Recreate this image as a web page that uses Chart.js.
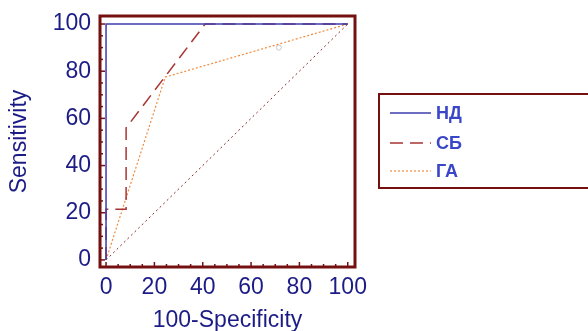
<!DOCTYPE html>
<html>
<head>
<meta charset="utf-8">
<script src="https://cdn.jsdelivr.net/npm/chart.js@4"></script>
<style>
  html, body { margin: 0; padding: 0; background: #fff; }
  #wrap { width: 588px; height: 331px; }
</style>
</head>
<body>
<div id="wrap"><canvas id="roc" width="588" height="331"></canvas></div>
<script>
// ===== Data =====
const axisTicks = [0, 20, 40, 60, 80, 100];
const ndX = [0, 0, 100];
const ndY = [0, 100, 100];
const sbX = [0, 0, 8.3, 8.3, 41, 100];
const sbY = [0, 21.5, 21.5, 56, 100, 100];
const gaX = [0, 24.5, 100];
const gaY = [0, 77.5, 100];
const diagX = [0, 100];
const diagY = [0, 100];
const markX = [71.5];
const markY = [90];

const pts = (xs, ys) => xs.map((x, i) => ({ x: x, y: ys[i] }));

const FRAME = '#741010';
const LABEL = '#1c1c86';
const FONT = '"Liberation Sans", Arial, sans-serif';

// ===== Frame + inward ticks =====
const framePlugin = {
    id: 'frame',
    afterDraw(chart) {
        const ctx = chart.ctx;
        const a = chart.chartArea;
        const xs = chart.scales.x, ys = chart.scales.y;
        ctx.save();
        ctx.strokeStyle = FRAME;
        ctx.lineWidth = 1.5;
        for (let v = 0; v <= 100; v += 5) {
            const len = v % 20 === 0 ? 5 : 3;
            const px = xs.getPixelForValue(v);
            ctx.beginPath();
            ctx.moveTo(px, a.bottom);
            ctx.lineTo(px, a.bottom - len);
            ctx.stroke();
            const py = ys.getPixelForValue(v);
            ctx.beginPath();
            ctx.moveTo(a.left, py);
            ctx.lineTo(a.left + len, py);
            ctx.stroke();
        }
        ctx.lineWidth = 3;
        ctx.strokeRect(a.left, a.top, a.right - a.left, a.bottom - a.top);
        ctx.restore();
    }
};

// ===== Legend box =====
const legendPlugin = {
    id: 'boxLegend',
    afterDraw(chart) {
        const ctx = chart.ctx;
        ctx.save();
        ctx.strokeStyle = FRAME;
        ctx.lineWidth = 2;
        ctx.strokeRect(379, 94, 220, 94);
        const rows = [113, 143, 171];
        chart.data.datasets.slice(0, 3).forEach((ds, i) => {
            const y = rows[i];
            ctx.strokeStyle = ds.borderColor;
            ctx.lineWidth = ds.borderWidth;
            ctx.setLineDash(ds.borderDash || []);
            ctx.beginPath();
            ctx.moveTo(390, y);
            ctx.lineTo(431, y);
            ctx.stroke();
            ctx.setLineDash([]);
            ctx.fillStyle = '#3a46c8';
            ctx.font = 'bold 18px ' + FONT;
            ctx.textBaseline = 'middle';
            ctx.fillText(ds.label, 436, y + 1);
        });
        ctx.restore();
    }
};

const tickFont = { family: FONT, size: 23 };
const titleFont = { family: FONT, size: 23, lineHeight: 1 };

new Chart(document.getElementById('roc').getContext('2d'), {
    type: 'line',
    data: {
        datasets: [
            {
                label: 'НД',
                data: pts(ndX, ndY),
                borderColor: '#3c3cae',
                borderWidth: 1.5,
                pointRadius: 0,
                fill: false
            },
            {
                label: 'СБ',
                data: pts(sbX, sbY),
                borderColor: '#a83434',
                borderWidth: 1.5,
                borderDash: [13, 7],
                pointRadius: 0,
                fill: false
            },
            {
                label: 'ГА',
                data: pts(gaX, gaY),
                borderColor: '#f08a3c',
                borderWidth: 1.2,
                borderDash: [2, 2],
                pointRadius: 0,
                fill: false
            },
            {
                label: 'ref',
                data: pts(diagX, diagY),
                borderColor: '#8a2a2a',
                borderWidth: 1,
                borderDash: [2, 3],
                pointRadius: 0,
                fill: false
            },
            {
                label: 'mark',
                type: 'scatter',
                data: pts(markX, markY),
                borderColor: '#c8c8c8',
                backgroundColor: 'rgba(255,255,255,0)',
                borderWidth: 1,
                pointRadius: 2.5
            }
        ]
    },
    options: {
        responsive: false,
        animation: false,
        layout: { padding: { top: 16, right: 233, left: 0, bottom: 0 } },
        plugins: { legend: { display: false }, tooltip: { enabled: false } },
        scales: {
            x: {
                type: 'linear',
                min: -2.5,
                max: 103,
                afterBuildTicks: s => { s.ticks = axisTicks.map(v => ({ value: v })); },
                afterFit: s => { s.height = 64; s.paddingLeft = 0; s.paddingRight = 0; },
                grid: { display: false, drawTicks: false },
                border: { display: false },
                ticks: { color: LABEL, font: tickFont, padding: 7, maxRotation: 0, autoSkip: false },
                title: {
                    display: true,
                    text: '100-Specificity',
                    color: LABEL,
                    font: titleFont,
                    padding: { top: 0, bottom: -1 }
                }
            },
            y: {
                type: 'linear',
                min: -3,
                max: 103.4,
                afterBuildTicks: s => { s.ticks = axisTicks.map(v => ({ value: v })); },
                afterFit: s => { s.width = 100; s.paddingTop = 0; s.paddingBottom = 0; },
                grid: { display: false, drawTicks: false },
                border: { display: false },
                ticks: { color: LABEL, font: tickFont, padding: 9, autoSkip: false },
                title: {
                    display: true,
                    text: 'Sensitivity',
                    color: LABEL,
                    font: titleFont,
                    padding: { top: 8, bottom: 0 }
                }
            }
        }
    },
    plugins: [framePlugin, legendPlugin]
});
</script>
</body>
</html>
